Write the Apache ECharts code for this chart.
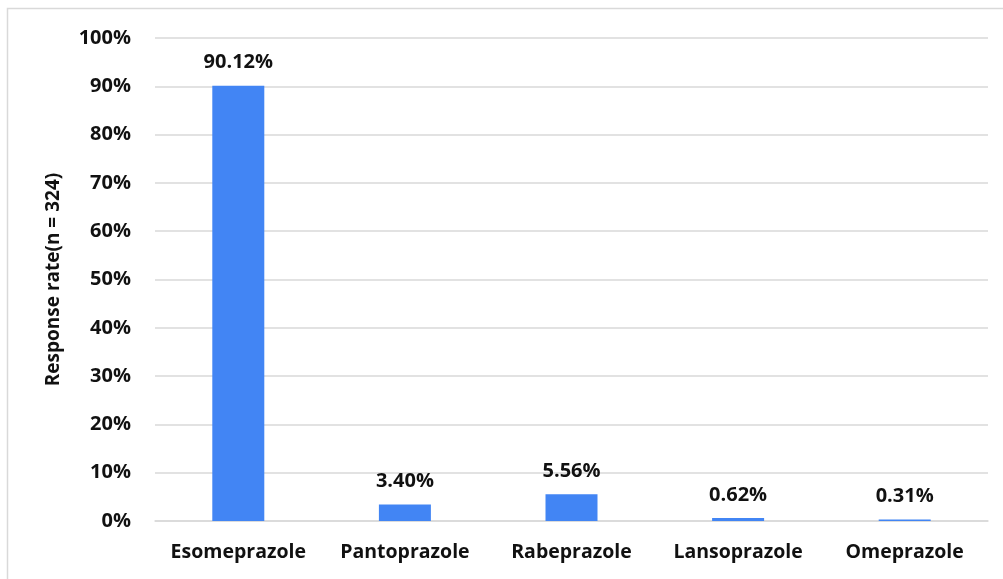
<!DOCTYPE html>
<html><head><meta charset="utf-8">
<script src="https://cdn.jsdelivr.net/npm/echarts@6/dist/echarts.min.js"></script>
<style>html,body{margin:0;padding:0;background:#fff}#c{width:1003px;height:579px}</style>
</head><body><div id="c"></div>
<script>
var categories = ['Esomeprazole','Pantoprazole','Rabeprazole','Lansoprazole','Omeprazole'];
var values = [90.12, 3.40, 5.56, 0.62, 0.31];
var labels = ['90.12%','3.40%','5.56%','0.62%','0.31%'];
var yTicks = [0,10,20,30,40,50,60,70,80,90,100];
var yTitle = 'Response rate(n = 324)';

var font = '"Open Sans", "Liberation Sans", sans-serif';
var chart = echarts.init(document.getElementById('c'), null, {renderer:'canvas'});
chart.setOption({
  animation:false,
  backgroundColor:'#fff',
  graphic:[{type:'rect', shape:{x:7.5,y:8.5,width:1010,height:600}, style:{fill:'none', stroke:'#d9d9d9', lineWidth:1.5}, silent:true}],
  grid:{left:155, right:15, top:38, bottom:58},
  xAxis:{type:'category', data:categories,
    axisLine:{show:true, lineStyle:{color:'#d9d9d9', width:1.5}},
    axisTick:{show:false},
    axisLabel:{color:'#111', fontFamily:font, fontWeight:'bold', fontSize:19.5, margin:21, interval:0, hideOverlap:false}
  },
  yAxis:{type:'value', min:0, max:100, interval:10,
    name:yTitle, nameLocation:'middle', nameGap:92, nameRotate:90,
    nameTextStyle:{color:'#111', fontFamily:font, fontWeight:'bold', fontSize:19},
    axisLine:{show:false}, axisTick:{show:false},
    splitLine:{lineStyle:{color:'#d9d9d9', width:1.5}},
    axisLabel:{color:'#111', fontFamily:font, fontWeight:'bold', fontSize:20, margin:24,
      formatter:function(v){return yTicks.indexOf(v)>=0 ? v+'%' : '';}}
  },
  series:[{type:'bar', data:values, barWidth:52,
    itemStyle:{color:'#4285f4'},
    label:{show:true, position:'top', distance:13, color:'#111', fontFamily:font, fontWeight:'bold', fontSize:20,
      formatter:function(p){return labels[p.dataIndex];}}
  }]
});
</script></body></html>
